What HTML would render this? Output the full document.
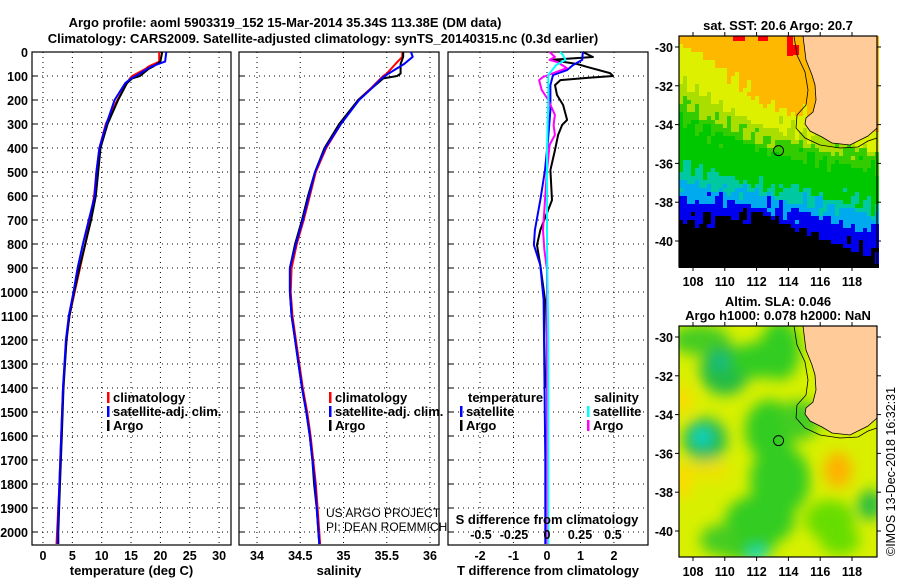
<!DOCTYPE html>
<html><head><meta charset="utf-8"><style>
html,body{margin:0;padding:0;background:#fff;width:900px;height:580px;overflow:hidden}
svg{display:block}
text{font-family:"Liberation Sans",sans-serif;font-weight:bold;font-size:13px;fill:#000}
.tk{font-size:12.5px}
.grid{stroke:#000;stroke-width:1;stroke-dasharray:1 4}
</style></head><body>
<svg id="fig" width="900" height="580" viewBox="0 0 900 580">
<g id="titles">
<text x="285" y="27" text-anchor="middle" font-size="14.5">Argo profile: aoml 5903319_152 15-Mar-2014 35.34S 113.38E (DM data)</text>
<text x="323" y="43" text-anchor="middle" font-size="14.5">Climatology: CARS2009. Satellite-adjusted climatology: synTS_20140315.nc (0.3d earlier)</text>
</g>
<g id="p1"></g>
<g id="p2"></g>
<g id="p3"></g>
<g id="m1"></g>
<g id="m2"></g>
</svg>
<script>
// ---- data ----
const depthTicks=[0,100,200,300,400,500,600,700,800,900,1000,1100,1200,1300,1400,1500,1600,1700,1800,1900,2000];
const tTicks=[0,5,10,15,20,25,30];
const sTicks=[34,34.5,35,35.5,36];
const dTTicks=[-2,-1,0,1,2];
const dSTicks=[-0.5,-0.25,0,0.25,0.5];
const dSTickLabels=['-0.5','-0.25','0','0.25','0.5'];
const latTicks=[-30,-32,-34,-36,-38,-40];
const lonTicks=[108,110,112,114,116,118];

const tDepth=[0,40,60,70,100,110,130,200,300,400,500,600,700,800,900,1000,1100,1200,1400,1600,1800,2000,2050];
const tArgo=[20.3,20.0,18.8,18.0,16.5,15.2,14.3,12.8,11.0,9.8,9.4,9.0,8.2,7.2,6.2,5.3,4.5,4.0,3.5,3.2,2.9,2.6,2.6];
const tClim=[19.8,19.8,18.0,17.5,15.2,14.8,14.3,12.7,10.7,9.6,9.1,8.7,8.0,7.2,6.3,5.4,4.5,4.0,3.4,3.1,2.8,2.4,2.3];
const tSat=[21.0,20.8,18.5,17.8,15.8,15.0,14.0,12.2,10.8,9.6,9.1,8.8,7.8,6.8,5.9,5.2,4.4,3.9,3.4,3.1,2.8,2.5,2.5];

const sDepth=[0,20,50,90,100,110,150,200,300,400,500,600,700,800,900,1000,1100,1200,1300,1400,1500,1600,1700,1800,1900,2000,2050];
const sArgo=[35.69,35.69,35.66,35.66,35.62,35.46,35.33,35.17,34.95,34.78,34.67,34.59,34.52,34.44,34.38,34.38,34.40,34.44,34.48,34.52,34.57,34.61,34.64,34.66,34.69,34.71,34.72];
const sClim=[35.68,35.68,35.60,35.50,35.46,35.43,35.32,35.17,34.97,34.80,34.68,34.61,34.54,34.46,34.40,34.39,34.41,34.45,34.49,34.53,34.58,34.62,34.65,34.68,34.70,34.72,34.73];
const sSat=[35.78,35.80,35.70,35.52,35.48,35.44,35.33,35.18,34.97,34.79,34.67,34.60,34.53,34.45,34.38,34.38,34.40,34.44,34.48,34.52,34.57,34.61,34.64,34.67,34.69,34.71,34.72];

const dDepth=[0,21,33,50,62,88,100,108,117,138,179,221,283,304,346,408,492,617,742,804,888,1033,1200,1400];
const dTArgo=[1.07,1.37,0.10,0.9,1.2,1.88,1.97,1.2,0.4,0.24,0.3,0.48,0.6,0.45,0.33,0.24,0.1,0.15,-0.2,-0.3,-0.2,-0.06,-0.08,-0.05];
const dTSatDepth=[0,33,54,75,96,138,242,367,492,617,742,804,888,1033,1300,1700,2050];
const dTSat=[1.07,1.05,0.78,0.6,0.18,0.1,0.1,0.03,-0.06,-0.2,-0.36,-0.39,-0.2,-0.1,-0.08,-0.05,-0.05];
const dSArgoDepth=[0,21,33,42,67,104,117,158,200,262,304,346,387,492,742,825,908,1200,1600,2050];
const dSArgo=[0.02,0.06,0.02,0.08,0.15,-0.03,-0.06,-0.04,0.01,0.06,0.05,0.06,0.02,0.0,-0.03,-0.02,0.0,0.0,0.0,0.0];
const dSSatDepth=[0,12,33,54,96,200,400,800,1200,1600,2050];
const dSSat=[0.10,0.12,0.14,0.07,0.01,0.01,0.0,0.0,0.01,0.01,0.01];

// ---- helpers ----
const NS='http://www.w3.org/2000/svg';
function el(parent,tag,attrs,txt){const e=document.createElementNS(NS,tag);for(const k in attrs)e.setAttribute(k,attrs[k]);if(txt!==undefined)e.textContent=txt;parent.appendChild(e);return e;}
const Y0=52, PY=0.24, BOT=545;
const yD=d=>Y0+d*PY;

function panel(g,x0,x1,xs,ticks,labels,showY,xlabel){
  el(g,'rect',{x:x0,y:Y0,width:x1-x0,height:BOT-Y0,fill:'#fff',stroke:'none'});
  ticks.forEach((t,i)=>{const x=xs(t);
    const gl=el(g,'line',{x1:x,y1:Y0,x2:x,y2:BOT,class:'grid'});
    
    
    if(labels){const tx=el(g,'text',{x:x,y:BOT+15,'text-anchor':'middle',class:'tk'},labels[i]);
      
      }
  });
  depthTicks.forEach(d=>{const y=yD(d);
    if(d>0&&d<=2000){const gl=el(g,'line',{x1:x0,y1:y,x2:x1,y2:y,class:'grid'});
      
      }
    el(g,'line',{x1:x0,y1:y,x2:x0+5,y2:y,stroke:'#000'});
    if(showY){const tx=el(g,'text',{x:x0-4,y:y+5,'text-anchor':'end',class:'tk'},String(d));
      
      }
  });
  el(g,'rect',{x:x0,y:Y0,width:x1-x0,height:BOT-Y0,fill:'none',stroke:'#000','stroke-width':1.2});
  if(xlabel){const t=el(g,'text',{x:(x0+x1)/2,y:575,'text-anchor':'middle'},xlabel);
    
    }
}
function line(g,vals,depths,xs,color,w,name){
  const d=vals.map((v,i)=>(i?'L':'M')+xs(v).toFixed(1)+' '+yD(depths[i]).toFixed(1)).join(' ');
  const p=el(g,'path',{d:d,fill:'none',stroke:color,'stroke-width':w,'stroke-linejoin':'round'});
  
  
}
function legend(g,x,y,items){
  items.forEach((it,i)=>{const yy=y+i*14;
    el(g,'rect',{x:x,y:yy-10,width:2.5,height:11,fill:it[1]});
    const t=el(g,'text',{x:x+6,y:yy},it[0]);
    
    });
}

// Panel 1 temperature
const p1=document.getElementById('p1');
const xT=v=>43+v*5.87;
panel(p1,32,231,xT,tTicks,tTicks.map(String),true,'temperature (deg C)');
line(p1,tClim,tDepth,xT,'#f00',2,'climatology-temperature-line');
line(p1,tArgo,tDepth,xT,'#000',2,'argo-temperature-line');
line(p1,tSat,tDepth,xT,'#00f',2,'satellite-temperature-line');
legend(p1,107,402,[['climatology','#f00'],['satellite-adj. clim.','#00f'],['Argo','#000']]);

// Panel 2 salinity
const p2=document.getElementById('p2');
const xS=v=>257+(v-34)*86.5;
panel(p2,239,439,xS,sTicks,sTicks.map(String),false,'salinity');
line(p2,sClim,sDepth,xS,'#f00',2,'climatology-salinity-line');
line(p2,sArgo,sDepth,xS,'#000',2,'argo-salinity-line');
line(p2,sSat,sDepth,xS,'#00f',2,'satellite-salinity-line');
legend(p2,329,402,[['climatology','#f00'],['satellite-adj. clim.','#00f'],['Argo','#000']]);
const n1=el(p2,'text',{x:326,y:517,style:'font-weight:normal;font-size:12px'},'US ARGO PROJECT');

const n2=el(p2,'text',{x:326,y:531,style:'font-weight:normal;font-size:12px'},'PI: DEAN ROEMMICH');


// Panel 3 differences
const p3=document.getElementById('p3');
const xDT=v=>547+v*33.5;
const xDS=v=>547+v*132;
panel(p3,448,648,xDT,dTTicks,dTTicks.map(String),false,'T difference from climatology');
line(p3,dTArgo,dDepth,xDT,'#000',2,'argo-temperature-difference-line');
line(p3,dTSat,dTSatDepth,xDT,'#00f',2,'satellite-temperature-difference-line');
line(p3,dSArgo,dSArgoDepth,xDS,'#f0f',2,'argo-salinity-difference-line');
line(p3,dSSat,dSSatDepth,xDS,'#0ff',2,'satellite-salinity-difference-line');
const st=el(p3,'text',{x:547,y:524,'text-anchor':'middle'},'S difference from climatology');

dSTicks.forEach((v,i)=>{const t=el(p3,'text',{x:xDS(v),y:539,'text-anchor':'middle',class:'tk'},dSTickLabels[i]);
  
  });
const lt=el(p3,'text',{x:468,y:402},'temperature');
legend(p3,460,416,[['satellite','#00f'],['Argo','#000']]);
const ls=el(p3,'text',{x:594,y:402},'salinity');
legend(p3,587,416,[['satellite','#0ff'],['Argo','#f0f']]);

// ---- Maps ----
const MX0=679,MX1=877;
const lonX=l=>693+(l-108)*15.9;
function mapFrame(g,top,lat30y,title1){
  const latY=l=>lat30y+(-30-l)*19.4;
  latTicks.forEach(l=>{const y=latY(l);
    el(g,'line',{x1:MX0-4,y1:y,x2:MX0,y2:y,stroke:'#000'});
    el(g,'line',{x1:MX1,y1:y,x2:MX1+4,y2:y,stroke:'#000'});
    const t=el(g,'text',{x:MX0-6,y:y+5,'text-anchor':'end',class:'tk'},String(l));
    
    });
  lonTicks.forEach(l=>{const x=lonX(l);
    el(g,'line',{x1:x,y1:top-4,x2:x,y2:top,stroke:'#000'});
    el(g,'line',{x1:x,y1:top+231,x2:x,y2:top+235,stroke:'#000'});
    const t=el(g,'text',{x:x,y:top+250,'text-anchor':'middle',class:'tk'},String(l));
    
    });
  const oy=top-36;
  const land=`M803 ${36+oy} L806 ${60+oy} L812 ${75+oy} L815 ${85+oy} L816 ${100+oy} L813 ${112+oy} L806 ${118+oy} L805 ${124+oy} L810 ${131+oy} L822 ${137+oy} L832 ${143+oy} L850 ${145+oy} L860 ${140+oy} L868 ${136+oy} L877 ${128+oy} L877 ${36+oy} Z`;
  const lp=el(g,'path',{d:land,fill:'#FFCC99',stroke:'#000','stroke-width':0.8});
  
  const cst=`M794 ${36+oy} L797 ${55+oy} L805 ${72+oy} L808 ${90+oy} L806 ${105+oy} L797 ${115+oy} L796 ${128+oy} L805 ${138+oy} L820 ${145+oy} L840 ${148+oy} L858 ${147+oy} L868 ${141+oy} L877 ${138+oy}`;
  const cp=el(g,'path',{d:cst,fill:'none',stroke:'#000','stroke-width':0.8});
  
  const c=el(g,'circle',{cx:lonX(113.38),cy:latY(-35.34),r:5,fill:'none',stroke:'#000','stroke-width':1});
  
  el(g,'rect',{x:MX0,y:top,width:MX1-MX0,height:231,fill:'none',stroke:'#000','stroke-width':1.2});
  title1.forEach((s,i)=>{const t=el(g,'text',{x:778,y:top-(title1.length-1-i)*14-6,'text-anchor':'middle'},s);
    });
}
// SST field
const m1=document.getElementById('m1');
(function(){
  const cols=['#000','#0000EE','#00AAEE','#00C8A0','#00C800','#33CC00','#AADD00','#DDF000','#FFB800'];
  // boundaries (y) at x=679, 760, 877 ; from deep to shallow
  const B=[[222,215,255],[198,205,230],[182,195,215],[165,185,205],[120,150,170],[100,140,155],[80,125,148],[40,100,135]];
  const cs=4;
  function interp(b,x){if(x<760){const f=(x-679)/81;return b[0]+(b[1]-b[0])*f;}const f=(x-760)/117;return b[1]+(b[2]-b[1])*f;}
  for(let x=MX0;x<MX1;x+=cs){for(let y=36;y<267;y+=cs){
    const n=(Math.sin(x*0.37+y*0.21)+Math.sin(x*0.13-y*0.29)+Math.cos(x*0.51+y*0.07))*4;
    let k=8;
    for(let i=0;i<B.length;i++){if(y+2>interp(B[i],x+2)+n){k=i;break;}}
    el(m1,'rect',{x:x,y:y,width:cs,height:cs,fill:cols[k]});
  }}
  el(m1,'rect',{x:733,y:36,width:12,height:5,fill:'#f00'});
  el(m1,'rect',{x:758,y:36,width:10,height:5,fill:'#f00'});
  el(m1,'rect',{x:787,y:36,width:6,height:20,fill:'#f00'});
  el(m1,'rect',{x:793,y:45,width:6,height:10,fill:'#f00'});
  mapFrame(m1,36,47,['sat. SST: 20.6 Argo: 20.7']);
})();
// SLA field
const m2=document.getElementById('m2');
(function(){
  const defs=el(m2,'defs',{});
  const cp=el(defs,'clipPath',{id:'c2'});el(cp,'rect',{x:MX0,y:326,width:MX1-MX0,height:231});
  const fl=el(defs,'filter',{id:'bl',x:'-50%',y:'-50%',width:'200%',height:'200%'});el(fl,'feGaussianBlur',{stdDeviation:7});
  const g=el(m2,'g',{'clip-path':'url(#c2)'});
  el(g,'rect',{x:MX0,y:326,width:MX1-MX0,height:231,fill:'#D8F000'});
  const b=el(g,'g',{filter:'url(#bl)'});
  const blobs=[[700,340,30,15,'#44CC22'],[725,370,25,25,'#22BB44'],[760,360,30,18,'#33CC22'],[780,350,20,30,'#33CC22'],[705,440,22,22,'#22BB55'],
   [770,430,25,30,'#33CC22'],[780,480,30,35,'#33CC22'],[760,520,35,25,'#33CC22'],[745,545,30,15,'#33CC22'],[720,540,20,15,'#44CC22'],
   [870,505,12,15,'#22BB44'],[830,520,25,20,'#66DD00'],[800,420,20,20,'#44CC22'],[850,400,25,15,'#88DD00'],[840,540,20,15,'#66DD00'],
   [683,400,8,15,'#FFD800'],[683,480,8,20,'#FFD800'],[838,470,14,18,'#FFB000'],[710,470,20,10,'#F0E000']];
  blobs.forEach(o=>el(b,'ellipse',{cx:o[0],cy:o[1],rx:o[2],ry:o[3],fill:o[4]}));
  [[720,362,6,'#00BBAA'],[702,437,8,'#00DDDD'],[757,555,8,'#00DDCC']].forEach(o=>el(b,'circle',{cx:o[0],cy:o[1],r:o[2],fill:o[3]}));
  mapFrame(m2,326,337,['Altim. SLA: 0.046','Argo h1000: 0.078 h2000: NaN']);
  const cr=el(m2,'text',{x:895,y:556,transform:'rotate(-90 895 556)',style:'font-weight:normal;font-size:12.5px'},'©IMOS 13-Dec-2018 16:32:31');
  
})();
</script>
</body></html>
